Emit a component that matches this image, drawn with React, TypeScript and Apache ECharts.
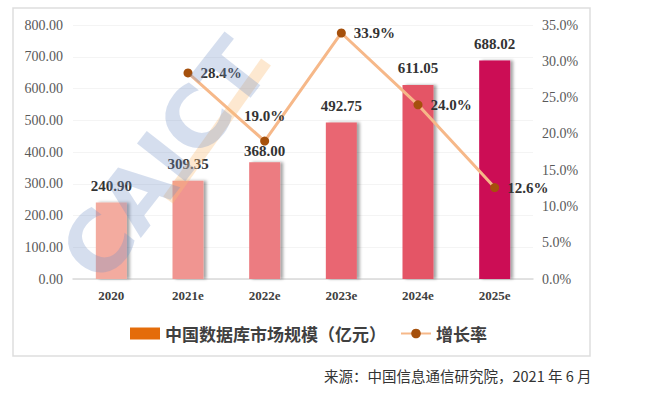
import React, { useEffect, useRef } from "react";
import * as echarts from "echarts";

const categories = ["2020", "2021e", "2022e", "2023e", "2024e", "2025e"];
const marketSize = [240.9, 309.35, 368.0, 492.75, 611.05, 688.02];
const growthRate = [null, 28.4, 19.0, 33.9, 24.0, 12.6];
const barColors = ["#f3ab9f", "#f09591", "#ec7b81", "#e96672", "#e45466", "#cc0955"];
const leftTicks = { min: 0, max: 800, interval: 100 };
const rightTicks = { min: 0, max: 35, interval: 5 };
const barName = "中国数据库市场规模（亿元）";
const lineName = "增长率";
const sourceText = "来源：中国信息通信研究院，2021 年 6 月";

const serif = "'Liberation Serif', 'Times New Roman', serif";
const cjk = "'Noto Sans CJK SC', sans-serif";

export default function App() {
  const ref = useRef<HTMLDivElement>(null);
  useEffect(() => {
    document.body.style.margin = "0";
    const chart = echarts.init(ref.current!, null, { renderer: "svg" });
    chart.setOption({
      animation: false,
      backgroundColor: "#ffffff",
      grid: { left: 73, right: 137, top: 25, bottom: 118 },
      legend: {
        left: 125,
        top: 320,
        itemWidth: 30,
        itemHeight: 12,
        itemGap: 14,
        textStyle: { fontFamily: cjk, fontSize: 17, fontWeight: "bold", color: "#404040" },
        data: [
          { name: barName, icon: "rect", itemStyle: { color: "#e46c0a" } },
          { name: lineName },
        ],
      },
      xAxis: {
        type: "category",
        data: categories,
        axisLine: { lineStyle: { color: "#d9d9d9", width: 1.5 } },
        axisTick: { show: false },
        axisLabel: { fontFamily: serif, fontSize: 13, fontWeight: "bold", color: "#404040", margin: 10 },
      },
      yAxis: [
        {
          type: "value",
          ...leftTicks,
          axisLabel: {
            fontFamily: serif,
            fontSize: 14,
            color: "#595959",
            margin: 10,
            formatter: (v: number) => v.toFixed(2),
          },
          splitLine: { lineStyle: { color: "#f4f4f4" } },
          axisLine: { show: false },
          axisTick: { show: false },
        },
        {
          type: "value",
          ...rightTicks,
          axisLabel: {
            fontFamily: serif,
            fontSize: 14,
            color: "#595959",
            margin: 9,
            formatter: (v: number) => v.toFixed(1) + "%",
          },
          splitLine: { show: false },
          axisLine: { show: false },
          axisTick: { show: false },
        },
      ],
      series: [
        {
          name: barName,
          type: "bar",
          barWidth: 31,
          yAxisIndex: 0,
          itemStyle: { color: "#e46c0a" },
          data: marketSize.map((v, i) => ({
            value: v,
            itemStyle: {
              color: barColors[i],
              shadowColor: "rgba(0,0,0,0.35)",
              shadowOffsetX: 3,
              shadowOffsetY: 0,
              shadowBlur: 3,
            },
            label: i === 2 ? { distance: 4 } : undefined,
          })),
          label: {
            show: true,
            position: "top",
            distance: 9,
            fontFamily: serif,
            fontSize: 15,
            fontWeight: "bold",
            color: "#333333",
            formatter: (p: any) => p.value.toFixed(2),
          },
        },
        {
          name: lineName,
          type: "line",
          yAxisIndex: 1,
          connectNulls: false,
          symbol: "circle",
          symbolSize: 9,
          lineStyle: { color: "#f6b889", width: 3 },
          itemStyle: { color: "#a5500c" },
          z: 5,
          data: growthRate.map((v, i) => ({
            value: v,
            label: i === 2 ? { position: "top", distance: 13 } : undefined,
          })),
          label: {
            show: true,
            position: "right",
            distance: 8,
            fontFamily: serif,
            fontSize: 15,
            fontWeight: "bold",
            color: "#333333",
            formatter: (p: any) => p.value.toFixed(1) + "%",
          },
        },
      ],
      graphic: [
        {
          type: "rect",
          shape: { x: 13, y: 8, width: 577, height: 348 },
          style: { fill: "none", stroke: "#dedede", lineWidth: 1.5 },
          z: 0,
          silent: true,
        },
        {
          type: "line",
          shape: { x1: 168, y1: 200, x2: 266, y2: 62 },
          style: { stroke: "rgba(250,190,120,0.35)", lineWidth: 12 },
          z: 10,
          silent: true,
        },
        {
          type: "text",
          x: 165,
          y: 160,
          rotation: (52 * Math.PI) / 180,
          style: {
            text: "CAICT",
            fontFamily: "'DejaVu Sans', sans-serif",
            fontSize: 84,
            fontWeight: "bold",
            fill: "rgba(115,145,200,0.3)",
            align: "center",
            verticalAlign: "middle",
          },
          z: 10,
          silent: true,
        },
        {
          type: "text",
          left: 324,
          top: 368,
          style: {
            text: sourceText,
            fontFamily: cjk,
            fontSize: 14.5,
            fill: "#333333",
          },
        },
      ],
    });
    return () => chart.dispose();
  }, []);
  return (
    <div
      ref={ref}
      style={{ position: "fixed", left: 0, top: 0, width: 670, height: 397 }}
    />
  );
}
